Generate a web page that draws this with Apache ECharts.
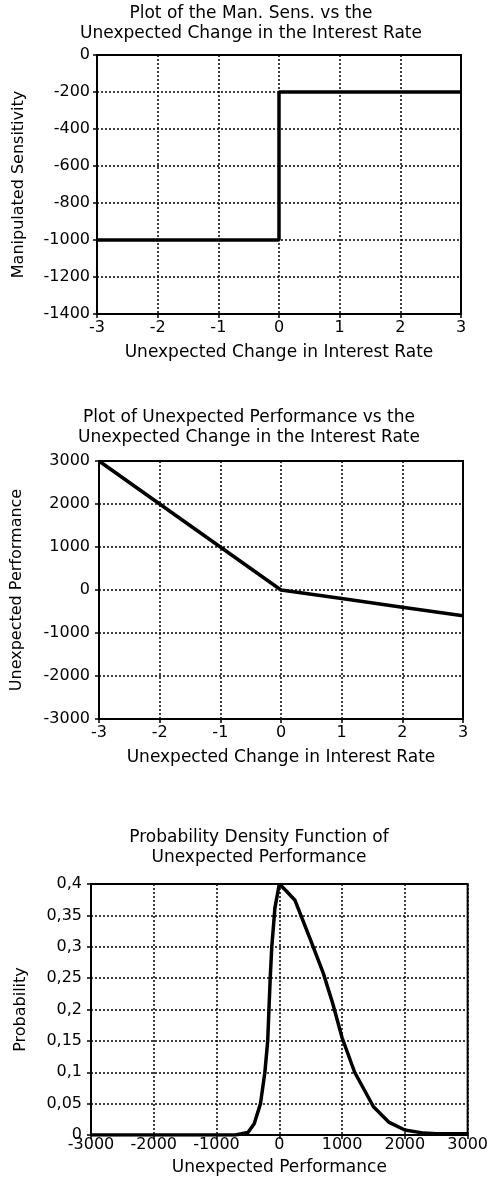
<!DOCTYPE html>
<html>
<head>
<meta charset="utf-8">
<script src="https://cdn.jsdelivr.net/npm/echarts@6/dist/echarts.min.js"></script>
<style>
html,body{margin:0;padding:0;background:#fff;}
#c{width:491px;height:1185px;}
</style>
</head>
<body>
<div id="c"></div>
<script>
// ---- Data ----
var titles = [
  'Plot of the Man. Sens. vs the\nUnexpected Change in the Interest Rate',
  'Plot of Unexpected Performance vs the\nUnexpected Change in the Interest Rate',
  'Probability Density Function of\nUnexpected Performance'
];
var rateTitle = 'Unexpected Change in Interest Rate';
var sensName = 'Manipulated Sensitivity';
var perfName = 'Unexpected Performance';
var probName = 'Probability';

// Chart 1: step function
var sensRate = [-3, 0, 3];
var sensValue = [-1000, -200, -200];

// Chart 2: unexpected performance
var perfRate = [-3, -2, -1, 0, 1, 2, 3];
var perfValue = [3000, 2000, 1000, 0, -200, -400, -600];

// Chart 3: pdf
var pdfX = [-3000, -700, -600, -500, -400, -300, -230, -185, -165, -145, -120, -70, 0, 100, 250, 500, 700, 850, 1000, 1200, 1500, 1750, 2000, 2300, 2500, 3000];
var pdfY = [0, 0, 0.002, 0.004, 0.018, 0.05, 0.1, 0.15, 0.2, 0.25, 0.3, 0.362, 0.4, 0.39, 0.374, 0.31, 0.258, 0.21, 0.155, 0.1, 0.045, 0.02, 0.008, 0.003, 0.002, 0.002];

function zip(a, b) { return a.map(function (v, i) { return [v, b[i]]; }); }

var FONT = 'DejaVu Sans';
var txt = { color: '#000', fontFamily: FONT, fontSize: 16 };
function plain(v) { return String(v); }

function xAxis(gi, min, max, interval, name, gap, margin) {
  return {
    type: 'value', gridIndex: gi, min: min, max: max, interval: interval,
    name: name, nameLocation: 'middle', nameGap: gap,
    nameTextStyle: { color: '#000', fontFamily: FONT, fontSize: 17 },
    axisLine: { show: true, onZero: false, lineStyle: { color: '#000', width: 2 } },
    axisTick: { show: true, length: 4, lineStyle: { color: '#000', width: 1.5 } },
    axisLabel: Object.assign({ margin: margin, formatter: plain }, txt),
    splitLine: { show: true, lineStyle: { color: '#000', type: [2, 2], width: 1.5 } }
  };
}
function yAxis(gi, min, max, interval, name, gap, margin, fmt) {
  var lbl = Object.assign({ margin: margin, formatter: fmt || plain }, txt);
  return {
    type: 'value', gridIndex: gi, min: min, max: max, interval: interval,
    name: name, nameLocation: 'middle', nameGap: gap,
    nameTextStyle: { color: '#000', fontFamily: FONT, fontSize: 16 },
    axisLine: { show: true, onZero: false, lineStyle: { color: '#000', width: 2 } },
    axisTick: { show: true, length: 4, lineStyle: { color: '#000', width: 1.5 } },
    axisLabel: lbl,
    splitLine: { show: true, lineStyle: { color: '#000', type: [2, 2], width: 1.5 } }
  };
}
function titleOpt(text, x, top) {
  return {
    text: text, left: x, top: top, textAlign: 'center', padding: 0,
    textStyle: { color: '#000', fontFamily: FONT, fontSize: 17, fontWeight: 'normal', lineHeight: 20 }
  };
}
var lineStyle = { color: '#000', width: 3.5 };

var chart = echarts.init(document.getElementById('c'), null, { renderer: 'canvas' });
chart.setOption({
  backgroundColor: '#fff',
  animation: false,
  title: [titleOpt(titles[0], 251, 4), titleOpt(titles[1], 249, 408), titleOpt(titles[2], 259, 828)],
  grid: [
    { left: 97, right: 30, top: 55, height: 259, show: true, borderColor: '#000', borderWidth: 2, backgroundColor: 'transparent' },
    { left: 99, right: 28, top: 461, height: 258, show: true, borderColor: '#000', borderWidth: 2, backgroundColor: 'transparent' },
    { left: 91, right: 21, top: 884, height: 251, show: true, borderColor: '#000', borderWidth: 2, backgroundColor: 'transparent' }
  ],
  xAxis: [
    xAxis(0, -3, 3, 1, rateTitle, 30, 6),
    xAxis(1, -3, 3, 1, rateTitle, 30, 6),
    xAxis(2, -3000, 3000, 1000, perfName, 24, 2)
  ],
  yAxis: [
    yAxis(0, -1400, 0, 200, sensName, 70, 7),
    yAxis(1, -3000, 3000, 1000, perfName, 74, 9),
    yAxis(2, 0, 0.4, 0.05, probName, 62, 9, function (v) { return String(+v.toFixed(2)).replace('.', ','); })
  ],
  series: [
    { type: 'line', xAxisIndex: 0, yAxisIndex: 0, data: zip(sensRate, sensValue), step: 'end', symbol: 'none', lineStyle: lineStyle },
    { type: 'line', xAxisIndex: 1, yAxisIndex: 1, data: zip(perfRate, perfValue), symbol: 'none', lineStyle: lineStyle },
    { type: 'line', xAxisIndex: 2, yAxisIndex: 2, data: zip(pdfX, pdfY), symbol: 'none', lineStyle: lineStyle }
  ]
});
</script>
</body>
</html>
